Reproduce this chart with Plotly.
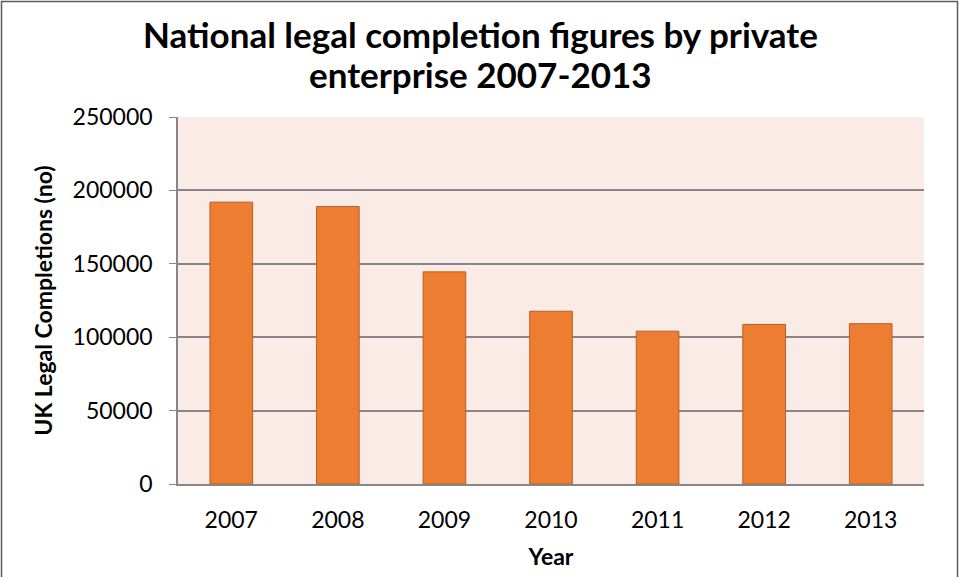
import plotly.graph_objects as go

# UK legal completions by private enterprise, 2007-2013
years = ["2007", "2008", "2009", "2010", "2011", "2012", "2013"]
completions = [192000, 189000, 144500, 117700, 104100, 108700, 109200]
y_ticks = [0, 50000, 100000, 150000, 200000, 250000]
title_lines = ["National legal completion figures by private", "enterprise 2007-2013"]

W, H = 961, 577
L, R, T, B = 178, 37, 117, 93
pw, ph = W - L - R, H - T - B

font_family = "Lato, 'Open Sans', sans-serif"

fig = go.Figure(
    go.Bar(
        x=years,
        y=completions,
        marker=dict(color="#ED7D31", line=dict(color="#B85F24", width=1)),
    )
)

# outer chart frame (left, top, right edges)
fx0, fx1 = (1.5 - L) / pw, (W - 3.5 - L) / pw
fy_top = 1 + (T - 1.5) / ph
fy_bot = -(B + 5) / ph
fig.add_shape(
    type="path",
    xref="paper", yref="paper",
    path=f"M {fx0} {fy_bot} L {fx0} {fy_top} L {fx1} {fy_top} L {fx1} {fy_bot}",
    line=dict(color="#5a5a5a", width=1.5),
)

# two-line chart title
for i, line in enumerate(title_lines):
    fig.add_annotation(
        text=f"<b>{line}</b>",
        xref="paper", yref="paper",
        x=(W / 2 - L) / pw, xanchor="center",
        y=1 + (T - (34 + 40 * i)) / ph, yanchor="middle",
        showarrow=False,
        font=dict(family=font_family, size=35, color="black"),
    )

fig.update_layout(
    width=W, height=H,
    margin=dict(l=L, r=R, t=T, b=B, autoexpand=False),
    paper_bgcolor="white",
    plot_bgcolor="#FAEBE6",
    bargap=0.6,
    showlegend=False,
    font=dict(family=font_family, color="black"),
    xaxis=dict(
        title=dict(text="Year", font=dict(size=23, weight="bold"), standoff=17),
        tickfont=dict(size=23),
        ticklabelstandoff=15,
        showline=True, linecolor="#868686", linewidth=1.5,
        ticks="", showgrid=False, automargin=False,
    ),
    yaxis=dict(
        title=dict(text="UK Legal Completions (no)", font=dict(size=23, weight="bold"), standoff=14),
        range=[0, 250000],
        tickvals=y_ticks,
        ticktext=[str(v) for v in y_ticks],
        tickfont=dict(size=23),
        ticklabelstandoff=12,
        showline=True, linecolor="#868686", linewidth=1.5,
        ticks="outside", ticklen=7, tickcolor="#868686",
        showgrid=True, gridcolor="#868686", gridwidth=1.5,
        zeroline=False, automargin=False,
    ),
)

fig.write_html("out.html")
